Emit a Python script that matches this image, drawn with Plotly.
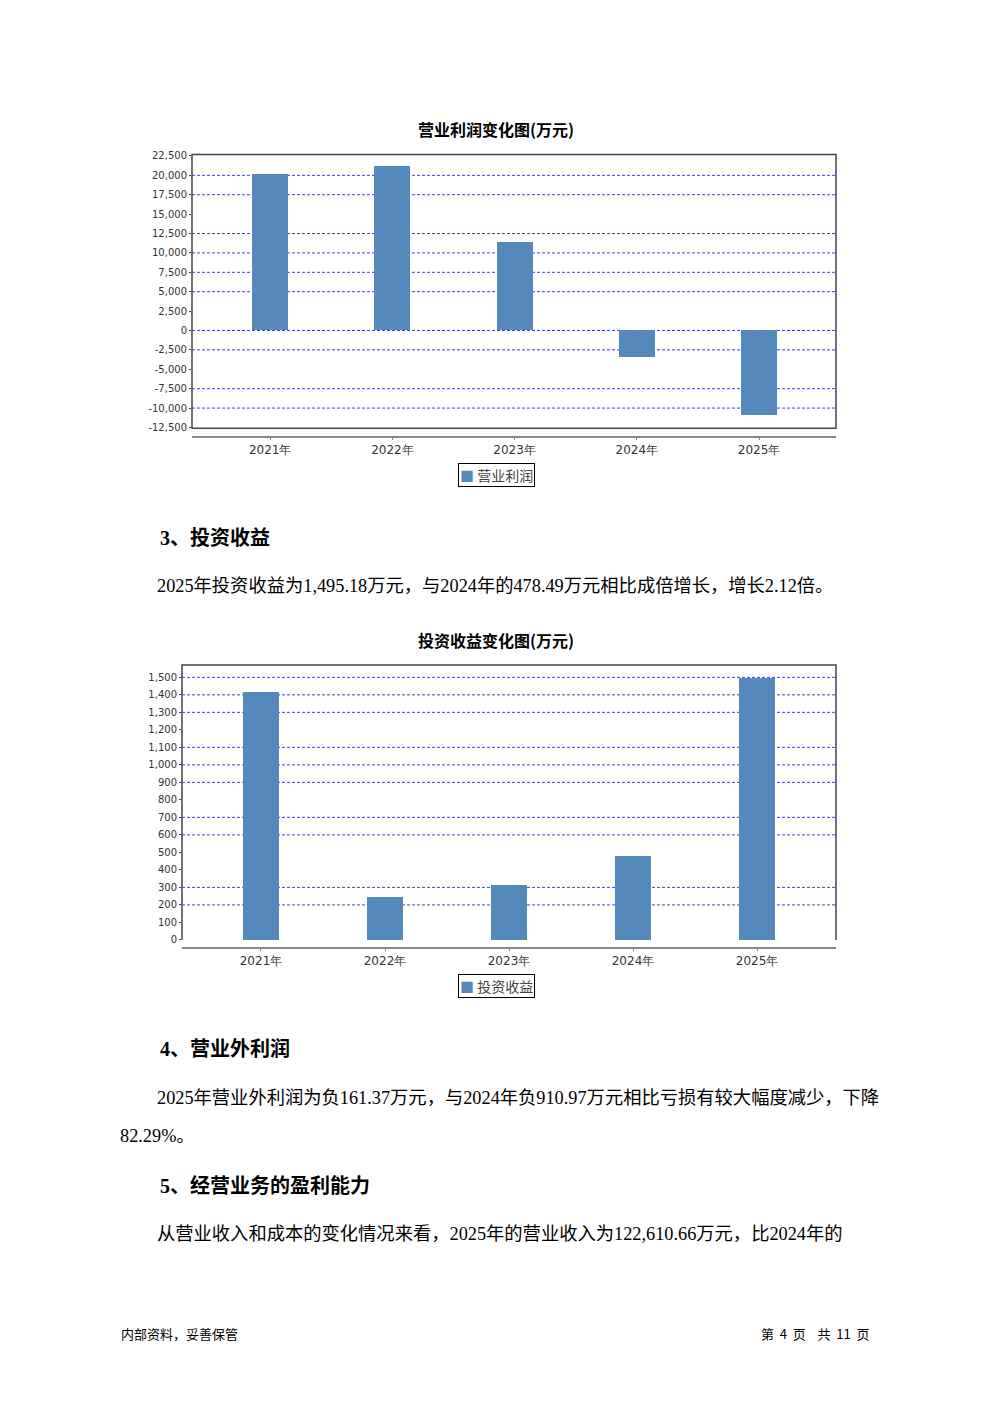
import plotly.graph_objects as go

W, H = 992, 1403

years = ["2021年", "2022年", "2023年", "2024年", "2025年"]
op_profit = [20100, 21200, 11300, -3450, -10950]
inv_income = [1414, 244, 311, 478.49, 1495.18]

op_ticks = list(range(-12500, 22501, 2500))
op_grid = [20000, 17500, 12500, 10000, 7500, 5000, 0, -2500, -7500, -10000]
inv_ticks = list(range(0, 1501, 100))
inv_grid = [1500, 1400, 1300, 1100, 1000, 900, 700, 600, 300, 200]

BAR = "#5589bb"
GRID = "#3c3cff"
CJK = "Noto Sans CJK SC"
BODY = "Liberation Serif, Noto Sans CJK SC"
TICKF = "DejaVu Sans"


def px(x):
    return x / W


def py(y):
    y = (y - 2.5) / 0.9935
    return 1 - y / H


def fmt(v):
    return f"{v:,}"


fig = go.Figure()

fig.add_trace(go.Bar(x=years, y=op_profit, marker=dict(color=BAR, line=dict(width=0)),
                     width=0.295, xaxis="x", yaxis="y", showlegend=False, hoverinfo="x+y"))
fig.add_trace(go.Bar(x=years, y=inv_income, marker=dict(color=BAR, line=dict(width=0)),
                     width=0.288, xaxis="x2", yaxis="y2", showlegend=False, hoverinfo="x+y"))

tickfont = dict(family=TICKF, size=10, color="#333333")
xtickfont = dict(family=TICKF, size=12, color="#333333")

fig.update_layout(
    width=W, height=H,
    margin=dict(l=0, r=0, t=0, b=0),
    paper_bgcolor="white", plot_bgcolor="white",
    bargap=0,
    xaxis=dict(domain=[px(192), px(836)], anchor="free", position=py(436),
               type="category", range=[-0.64, 4.63],
               showline=True, linecolor="#888888", linewidth=1.5,
               ticks="outside", ticklen=2, tickcolor="#888888",
               tickfont=xtickfont,
               showgrid=False, zeroline=False),
    yaxis=dict(domain=[py(427), py(153)], anchor="x", range=[-12600, 22700],
               tickvals=op_ticks, ticktext=[fmt(v) for v in op_ticks],
               ticks="outside", ticklen=2,
               tickcolor="#444444", tickfont=tickfont,
               showgrid=False, zeroline=False, showline=False),
    xaxis2=dict(domain=[px(182), px(836)], anchor="free", position=py(947),
                type="category", range=[-0.637, 4.637],
                showline=True, linecolor="#888888", linewidth=1.5,
                ticks="outside", ticklen=2, tickcolor="#888888",
                tickfont=xtickfont,
                showgrid=False, zeroline=False),
    yaxis2=dict(domain=[py(939), py(664)], anchor="x2", range=[0, 1570],
                tickvals=inv_ticks, ticktext=[fmt(v) for v in inv_ticks],
                ticks="outside", ticklen=2,
                tickcolor="#444444", tickfont=tickfont,
                showgrid=False, zeroline=False, showline=False),
)

shapes = []
for v in op_grid:
    shapes.append(dict(type="line", xref="x domain", yref="y", x0=0, x1=1, y0=v, y1=v,
                       line=dict(color=GRID, width=1, dash="3px,2px"), layer="below"))
for v in inv_grid:
    shapes.append(dict(type="line", xref="x2 domain", yref="y2", x0=0, x1=1, y0=v, y1=v,
                       line=dict(color=GRID, width=1, dash="3px,2px"), layer="below"))
# frames
shapes.append(dict(type="rect", xref="x domain", yref="y domain", x0=0, x1=1, y0=0, y1=1,
                   line=dict(color="#444444", width=1.5), layer="above"))
shapes.append(dict(type="path", xref="paper", yref="paper",
                   path=f"M {px(182)},{py(939)} L {px(182)},{py(664)} L {px(836)},{py(664)} L {px(836)},{py(939)}",
                   line=dict(color="#444444", width=1.5), layer="above"))
fig.update_layout(shapes=shapes)

ann = []


def text(x, y, s, size, family=BODY, bold=False, xanchor="left", color="black"):
    if bold:
        s = f"<b>{s}</b>"
    ann.append(dict(x=px(x), y=py(y), xref="paper", yref="paper", text=s, showarrow=False,
                    xanchor=xanchor, yanchor="middle",
                    font=dict(family=family, size=size, color=color)))


text(496, 127.5, "营业利润变化图(万元)", 16, family=CJK, bold=True, xanchor="center")
text(496, 639, "投资收益变化图(万元)", 16, family=CJK, bold=True, xanchor="center")

for cx, cy, lab in [(496, 473.5, "营业利润"), (496, 985.5, "投资收益")]:
    ann.append(dict(x=px(cx), y=py(cy), xref="paper", yref="paper",
                    text=f"<span style='color:{BAR}'>■</span> {lab}", showarrow=False,
                    xanchor="center", yanchor="middle", bordercolor="black", borderwidth=1,
                    borderpad=1, bgcolor="white",
                    font=dict(family=CJK, size=14, color="#444444")))

text(158, 537, "3、投资收益", 20, family=BODY, bold=True)
text(155, 585, "2025年投资收益为1,495.18万元，与2024年的478.49万元相比成倍增长，增长2.12倍。", 18.3)
text(158, 1048, "4、营业外利润", 20, family=BODY, bold=True)
text(155, 1097, "2025年营业外利润为负161.37万元，与2024年负910.97万元相比亏损有较大幅度减少，下降", 18.3)
text(118, 1135, "82.29%。", 18.3)
text(158, 1185, "5、经营业务的盈利能力", 20, family=BODY, bold=True)
text(155, 1233, "从营业收入和成本的变化情况来看，2025年的营业收入为122,610.66万元，比2024年的", 18.3)
text(119, 1333, "内部资料，妥善保管", 13, family=CJK)
text(872, 1333, "第  4  页    共  11  页", 13, family=CJK, xanchor="right")

fig.update_layout(annotations=ann)

fig.write_html(
    "out.html", config={"displayModeBar": False},
    post_script=(
        "document.documentElement.style.margin='0';"
        "document.documentElement.style.overflow='hidden';"
        "document.body.style.margin='0';"
        "document.body.style.overflow='hidden';"
        "document.body.style.height='1403px';"
    ),
)
